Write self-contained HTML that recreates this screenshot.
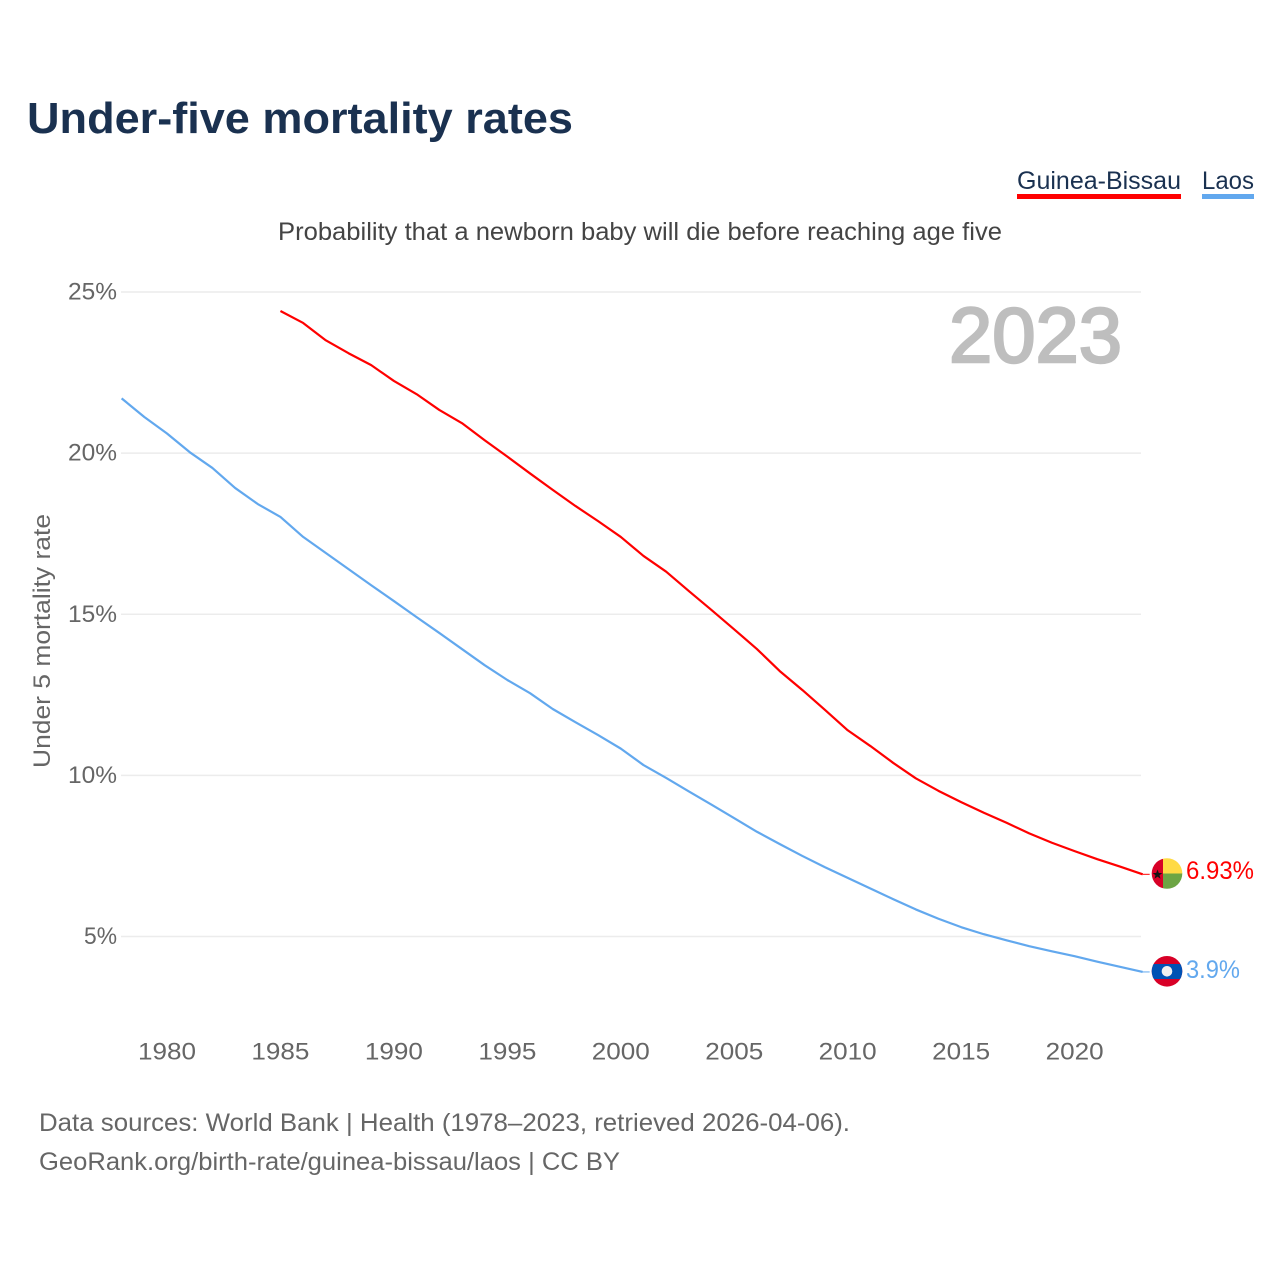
<!DOCTYPE html>
<html lang="en">
<head>
<meta charset="utf-8">
<title>Under-five mortality rates</title>
<style>
html,body{margin:0;padding:0;background:#fff;}
svg{display:block;font-family:"Liberation Sans",sans-serif;}
</style>
</head>
<body>
<svg id="chart" xmlns="http://www.w3.org/2000/svg" width="1280" height="1280" viewBox="0 0 1280 1280">
  <rect width="1280" height="1280" fill="#ffffff"/>
  <text x="27" y="133" font-size="44" font-weight="700" fill="#1a3150" textLength="546" lengthAdjust="spacingAndGlyphs">Under-five mortality rates</text>

  <g>
    <text x="1017" y="189" font-size="25" fill="#1a3150" textLength="164" lengthAdjust="spacingAndGlyphs">Guinea-Bissau</text>
    <rect x="1017" y="194" width="164" height="5" fill="#ff0000"/>
  </g>
  <g>
    <text x="1202" y="189" font-size="25" fill="#1a3150" textLength="52" lengthAdjust="spacingAndGlyphs">Laos</text>
    <rect x="1202" y="194" width="52" height="5" fill="#62a8ee"/>
  </g>

  <text x="278" y="240" font-size="25" fill="#444444" textLength="724" lengthAdjust="spacingAndGlyphs">Probability that a newborn baby will die before reaching age five</text>

  <g id="grid"></g>
  <g id="yticks"></g>
  <g id="xticks"></g>

  <text transform="translate(50,641) rotate(-90)" text-anchor="middle" font-size="24" fill="#666666" textLength="254" lengthAdjust="spacingAndGlyphs">Under 5 mortality rate</text>

  <text x="949" y="362" font-size="78" fill="#bebebe" stroke="#bebebe" stroke-width="2.4" textLength="173" lengthAdjust="spacingAndGlyphs">2023</text>

  <g id="series"></g>

  <g>
    <clipPath id="clip-gw"><circle cx="1167" cy="873.5" r="15.3"/></clipPath>
    <g clip-path="url(#clip-gw)">
      <rect x="1151" y="858" width="12" height="31" fill="#d80027"/>
      <rect x="1163" y="858" width="20" height="15.5" fill="#ffda44"/>
      <rect x="1163" y="873.5" width="20" height="15.5" fill="#6da544"/>
      <polygon points="1157.5,869.5 1158.8,873 1162.3,873 1159.5,875.2 1160.5,878.7 1157.5,876.6 1154.5,878.7 1155.5,875.2 1152.7,873 1156.2,873" fill="#111111"/>
    </g>
  </g>
  <g>
    <clipPath id="clip-la"><circle cx="1167" cy="971.3" r="15.3"/></clipPath>
    <g clip-path="url(#clip-la)">
      <rect x="1151" y="955" width="32" height="33" fill="#d80027"/>
      <rect x="1151" y="964" width="32" height="15" fill="#0052b4"/>
      <circle cx="1167" cy="971.3" r="5.3" fill="#f0f0f0"/>
    </g>
  </g>

  <text x="1186" y="879" font-size="25" fill="#ff0000" textLength="68" lengthAdjust="spacingAndGlyphs">6.93%</text>
  <text x="1186" y="978" font-size="25" fill="#62a8ee" textLength="54" lengthAdjust="spacingAndGlyphs">3.9%</text>

  <text x="39" y="1131" font-size="25" fill="#666666" textLength="811" lengthAdjust="spacingAndGlyphs">Data sources: World Bank | Health (1978–2023, retrieved 2026-04-06).</text>
  <text x="39" y="1170" font-size="25" fill="#666666" textLength="581" lengthAdjust="spacingAndGlyphs">GeoRank.org/birth-rate/guinea-bissau/laos | CC BY</text>
</svg>
<script>
const xTicks = [1980, 1985, 1990, 1995, 2000, 2005, 2010, 2015, 2020];
const yTicks = [5, 10, 15, 20, 25];
const gwStartYear = 1985;
const laStartYear = 1978;
const gwValues = [24.41,24.04,23.5,23.1,22.73,22.24,21.83,21.34,20.93,20.4,19.89,19.37,18.86,18.36,17.89,17.40,16.81,16.32,15.72,15.13,14.53,13.92,13.24,12.65,12.03,11.4,10.91,10.39,9.91,9.52,9.17,8.84,8.53,8.20,7.91,7.65,7.40,7.17,6.93];
const laValues = [21.70,21.12,20.61,20.03,19.54,18.92,18.42,18.02,17.4,16.9,16.4,15.9,15.41,14.91,14.42,13.92,13.42,12.96,12.55,12.06,11.65,11.25,10.83,10.32,9.92,9.50,9.09,8.67,8.25,7.87,7.50,7.15,6.82,6.49,6.16,5.84,5.55,5.29,5.07,4.88,4.70,4.54,4.39,4.22,4.06,3.9];

const NS = 'http://www.w3.org/2000/svg';
const xScale = function (year) { return 167 + (year - 1980) * 22.69; };
const yScale = function (v) { return 936.5 - (v - 5) * 32.225; };

const gridG = document.getElementById('grid');
const yG = document.getElementById('yticks');
const xG = document.getElementById('xticks');
const seriesG = document.getElementById('series');

yTicks.forEach(function (t) {
  const line = document.createElementNS(NS, 'line');
  
  
  line.setAttribute('x1', 121);
  line.setAttribute('x2', 1141);
  line.setAttribute('y1', yScale(t));
  line.setAttribute('y2', yScale(t));
  line.setAttribute('stroke', '#ececec');
  line.setAttribute('stroke-width', '1.5');
  gridG.appendChild(line);

  const label = document.createElementNS(NS, 'text');
  
  
  label.setAttribute('x', 117);
  label.setAttribute('y', yScale(t) + 7.5);
  label.setAttribute('text-anchor', 'end');
  label.setAttribute('font-size', '24');
  label.setAttribute('fill', '#666666');
  label.setAttribute('textLength', t < 10 ? 33 : 49);
  label.setAttribute('lengthAdjust', 'spacingAndGlyphs');
  label.textContent = t + '%';
  yG.appendChild(label);
});

xTicks.forEach(function (t) {
  const label = document.createElementNS(NS, 'text');
  
  
  label.setAttribute('x', xScale(t));
  label.setAttribute('y', 1059.5);
  label.setAttribute('text-anchor', 'middle');
  label.setAttribute('font-size', '24');
  label.setAttribute('fill', '#666666');
  label.setAttribute('textLength', 58);
  label.setAttribute('lengthAdjust', 'spacingAndGlyphs');
  label.textContent = t;
  xG.appendChild(label);
});

function drawSeries(values, startYear, color, lineName, connectorName) {
  const pts = values.map(function (v, i) {
    return xScale(startYear + i).toFixed(2) + ',' + yScale(v).toFixed(2);
  });
  const line = document.createElementNS(NS, 'polyline');
  
  
  line.setAttribute('points', pts.join(' '));
  line.setAttribute('fill', 'none');
  line.setAttribute('stroke', color);
  line.setAttribute('stroke-width', '2.2');
  line.setAttribute('stroke-linejoin', 'round');
  seriesG.appendChild(line);

  const last = values[values.length - 1];
  const lastX = xScale(startYear + values.length - 1);
  const conn = document.createElementNS(NS, 'line');
  
  
  conn.setAttribute('x1', lastX);
  conn.setAttribute('x2', lastX + 7);
  conn.setAttribute('y1', yScale(last));
  conn.setAttribute('y2', yScale(last));
  conn.setAttribute('stroke', color);
  conn.setAttribute('stroke-width', '1');
  seriesG.appendChild(conn);
}

drawSeries(laValues, laStartYear, '#62a8ee', 'line-laos', 'connector-laos');
drawSeries(gwValues, gwStartYear, '#ff0000', 'line-guinea-bissau', 'connector-guinea-bissau');
</script>
</body>
</html>
